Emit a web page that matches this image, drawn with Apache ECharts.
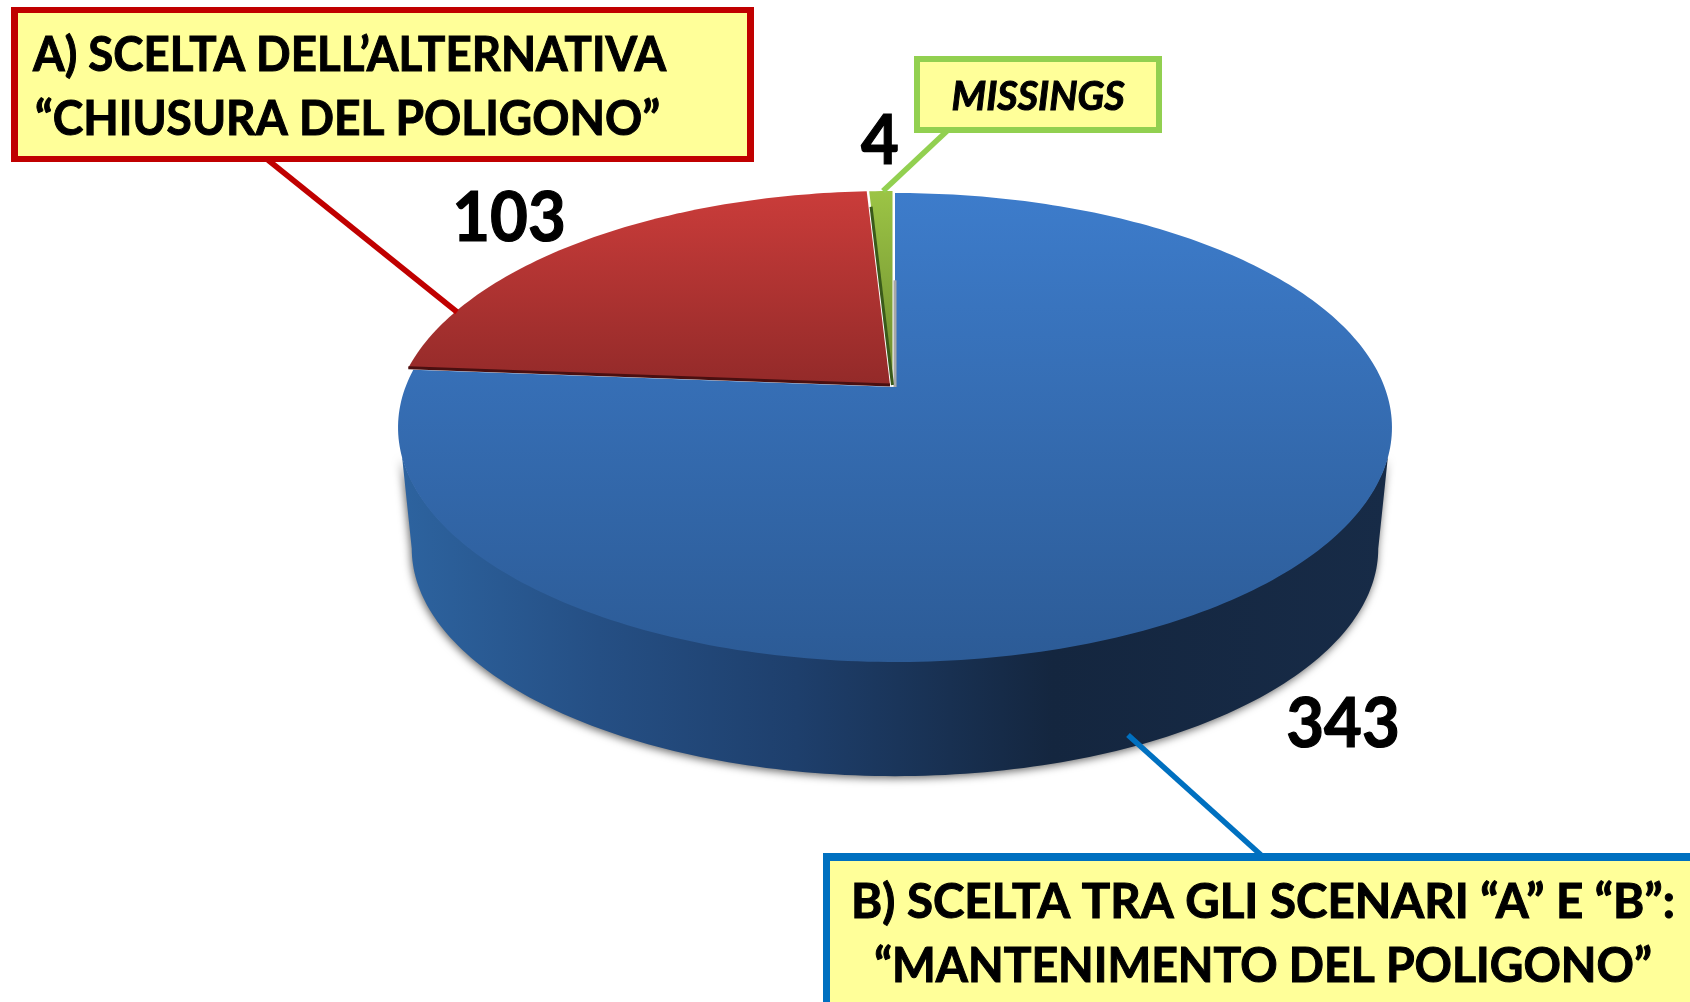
<!DOCTYPE html>
<html><head><meta charset="utf-8">
<style>html,body{margin:0;padding:0;background:#fff}#c{width:1690px;height:1002px}</style>
<script src="https://cdn.jsdelivr.net/npm/echarts@6/dist/echarts.min.js"></script></head>
<body><div id="c"></div>
<script>
var categories = ['B) Mantenimento del poligono', 'A) Chiusura del poligono', 'Missings'];
var sliceValues = [343, 103, 4];
var topColors = [['#3d7ccb', '#2c5b96'], ['#ca3c3a', '#932a29'], ['#9cc445', '#6b8a2e']];
var edgeColors = ['#a8a8a8', '#4a0f10', '#3a5a1a'];
var edgeSpans = [0.55, 1, 0.92];
var explode = [[0, 1], [-5, -1], [-2.5, -1]];
var labelAnchors = [[1343, 725], [509, 219], [880, 142]];

var TOTAL = sliceValues.reduce(function (a, b) { return a + b; }, 0);
var FONT = 'Lato';
var K = 0.1727;
var TOP = { cx: 895, cy: 386, a: 489.5, b: 227.5 };
var LOW = { cx: 895, cy: 509, a: 476, b: 221 };
var WALL_TOP = [107, 253], WALL_LOW = [100, 260];

function project(d, deg) {
  var t = deg * Math.PI / 180, x = Math.sin(t), y = Math.cos(t), w = 1 + K * y;
  return [d.cx + d.a * x / w, d.cy - d.b * y / w];
}
function arc(d, from, to) {
  var pts = [], n = Math.max(2, Math.ceil(Math.abs(to - from)));
  for (var i = 0; i <= n; i++) pts.push(project(d, from + (to - from) * i / n));
  return pts;
}
function vgrad(c) {
  return { type: 'linear', x: 0, y: 0, x2: 0, y2: 1,
    colorStops: [{ offset: 0, color: c[0] }, { offset: 1, color: c[1] }] };
}
var wallFill = { type: 'linear', x: 0, y: 0, x2: 1, y2: 0, colorStops: [
  { offset: 0, color: '#2d639f' }, { offset: 0.2, color: '#254f84' },
  { offset: 0.4, color: '#1e3f6c' }, { offset: 0.66, color: '#14263f' },
  { offset: 1, color: '#172b47' }] };

function renderSlice(params, api) {
  var idx = params.dataIndex, val = api.value(0), start = 0;
  for (var i = 0; i < idx; i++) start += sliceValues[i];
  var a0 = start / TOTAL * 360, a1 = (start + val) / TOTAL * 360;
  var children = [];
  var t0 = Math.max(a0, WALL_TOP[0]), t1 = Math.min(a1, WALL_TOP[1]);
  var l0 = Math.max(a0, WALL_LOW[0]), l1 = Math.min(a1, WALL_LOW[1]);
  if (t1 > t0 && l1 > l0) {
    children.push({ type: 'polygon',
      shape: { points: arc(TOP, t0, t1).concat(arc(LOW, l1, l0)) },
      style: { fill: wallFill, shadowColor: 'rgba(0,0,0,0.6)', shadowBlur: 8, shadowOffsetX: -1, shadowOffsetY: 2 } });
  }
  var ox = explode[idx][0], oy = explode[idx][1];
  var tip = [TOP.cx + ox, TOP.cy + oy];
  var face = arc(TOP, a0, a1).map(function (p) { return [p[0] + ox, p[1] + oy]; });
  children.push({ type: 'polygon', z2: 2, shape: { points: [tip].concat(face) },
    style: { fill: vgrad(topColors[idx]) } });
  var rim = face[0], sp = edgeSpans[idx];
  children.push({ type: 'line', z2: 3,
    shape: { x1: tip[0], y1: tip[1], x2: tip[0] + (rim[0] - tip[0]) * sp, y2: tip[1] + (rim[1] - tip[1]) * sp },
    style: { stroke: edgeColors[idx], lineWidth: 3, fill: null } });
  children.push({ type: 'text', z2: 5, x: labelAnchors[idx][0], y: labelAnchors[idx][1], scaleX: 0.96,
    style: { text: String(val), fontFamily: FONT, fontWeight: 'bold', fontSize: 68, fill: '#000',
      stroke: '#000', lineWidth: 1.2, align: 'center', verticalAlign: 'middle' } });
  return { type: 'group', children: children };
}

function box(x0, y0, x1, y1, bx, by, color) {
  return [
    { type: 'rect', z: 20, shape: { x: x0, y: y0, width: x1 - x0, height: y1 - y0 }, style: { fill: color } },
    { type: 'rect', z: 21, shape: { x: x0 + bx, y: y0 + by, width: x1 - x0 - 2 * bx, height: y1 - y0 - 2 * by }, style: { fill: '#ffff99' } }
  ];
}
function leader(x1, y1, x2, y2, color) {
  return { type: 'line', z: 19, shape: { x1: x1, y1: y1, x2: x2, y2: y2 }, style: { stroke: color, lineWidth: 5.5 } };
}
function label(t, x, y, align, size, sx, extra) {
  return { type: 'text', z: 22, x: x, y: y, scaleX: sx, style: Object.assign({ text: t, fontFamily: FONT, fontWeight: 'bold',
    fontSize: size, fill: '#000', stroke: '#000', lineWidth: 1, align: align, verticalAlign: 'middle' }, extra || {}) };
}

var graphicEls = [].concat(
  [leader(268, 160, 457, 312, '#c00000'), leader(947, 131, 883, 191, '#92d050'), leader(1128, 735, 1261, 855, '#0070c0')],
  box(11, 7, 754, 162, 7, 6, '#c00000'),
  box(914, 56, 1162, 133, 6, 6, '#92d050'),
  box(823, 853, 1700, 1010, 7, 8, '#0070c0'),
  [
    label('A) SCELTA DELL\u2019ALTERNATIVA', 33, 56, 'left', 47, 0.97),
    label('\u201CCHIUSURA DEL POLIGONO\u201D', 35, 120, 'left', 47, 0.98),
    label('MISSINGS', 1038, 97, 'center', 39.5, 1, { fontStyle: 'italic' }),
    label('B) SCELTA TRA GLI SCENARI \u201CA\u201D E \u201CB\u201D:', 1263, 903, 'center', 47, 1.01),
    label('\u201CMANTENIMENTO DEL POLIGONO\u201D', 1263, 967, 'center', 47, 0.985)
  ]
);

var chart = echarts.init(document.getElementById('c'), null, { renderer: 'canvas' });
chart.setOption({
  animation: false,
  backgroundColor: '#fff',
  series: [{
    type: 'custom', coordinateSystem: 'none', renderItem: renderSlice, z: 5,
    data: categories.map(function (c, i) { return { name: c, value: [sliceValues[i]] }; })
  }],
  graphic: { elements: graphicEls }
});
</script></body></html>
